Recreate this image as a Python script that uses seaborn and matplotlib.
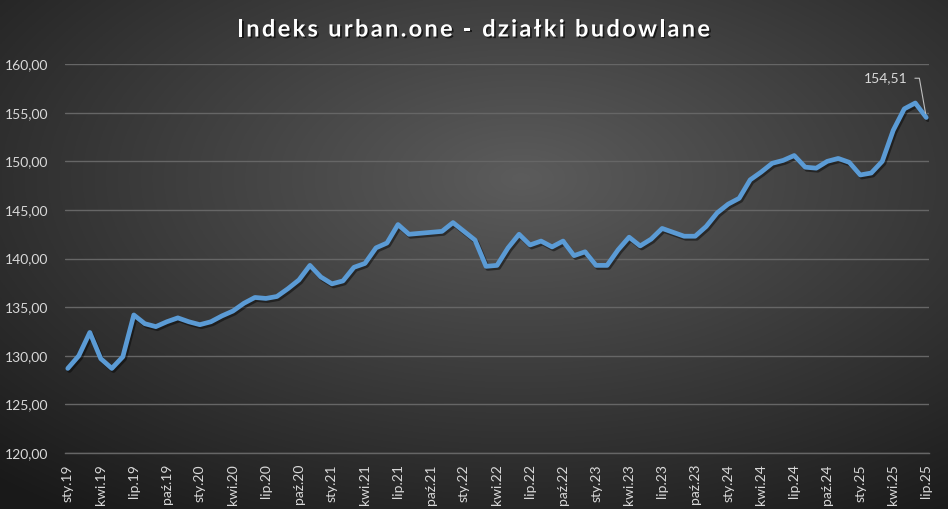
import numpy as np
import pandas as pd
import matplotlib
matplotlib.use('Agg')
import matplotlib.pyplot as plt
import matplotlib.patheffects as pe
import seaborn as sns

# Polish month abbreviations, monthly index values Jan 2019 - Jul 2025
month_names = ['sty', 'lut', 'mar', 'kwi', 'maj', 'cze', 'lip', 'sie', 'wrz', 'paź', 'lis', 'gru']
years = ['19', '20', '21', '22', '23', '24', '25']

index_values = [
    128.7, 130.0, 132.4, 129.7, 128.7, 129.9, 134.2, 133.3, 133.0, 133.5, 133.9, 133.5,
    133.2, 133.5, 134.1, 134.6, 135.4, 136.0, 135.9, 136.1, 136.9, 137.8, 139.3, 138.1,
    137.4, 137.7, 139.1, 139.5, 141.1, 141.6, 143.5, 142.5, 142.6, 142.7, 142.8, 143.7,
    142.8, 141.9, 139.2, 139.3, 141.1, 142.5, 141.4, 141.8, 141.2, 141.8, 140.3, 140.7,
    139.3, 139.3, 140.9, 142.2, 141.3, 142.0, 143.1, 142.7, 142.3, 142.3, 143.3, 144.7,
    145.6, 146.2, 148.1, 148.9, 149.8, 150.1, 150.6, 149.4, 149.3, 150.0, 150.3, 149.9,
    148.6, 148.8, 150.0, 153.2, 155.4, 156.0, 154.51,
]

y_ticks = [120, 125, 130, 135, 140, 145, 150, 155, 160]
last_label = '154,51'
title = 'Indeks urban.one - działki budowlane'

month_labels = [f'{m}.{y}' for y in years for m in month_names][:len(index_values)]
df = pd.DataFrame({'idx': range(len(index_values)), 'month': month_labels, 'value': index_values})

sns.set_theme(style='dark')
plt.rcParams['font.family'] = ['Lato', 'DejaVu Sans']

fig = plt.figure(figsize=(9.48, 5.09), dpi=100)

# radial gradient background
bg = fig.add_axes([0, 0, 1, 1], zorder=-1)
yy, xx = np.mgrid[0:1:300j, 0:1:560j]
dist = np.sqrt(((xx - 0.55) / 0.75) ** 2 + ((yy - 0.35) / 0.75) ** 2)
shade = np.clip(0.36 - 0.24 * dist, 0.1, 0.36)
bg.imshow(np.dstack([shade] * 3), aspect='auto', extent=[0, 1, 0, 1], origin='upper')
bg.axis('off')

ax = fig.add_axes([0.0686, 0.110, 0.9114, 0.764])
ax.set_facecolor('none')

sns.lineplot(data=df, x='idx', y='value', ax=ax, color='#5b9bd5', linewidth=3.4,
             solid_capstyle='round', solid_joinstyle='round',
             path_effects=[pe.SimpleLineShadow(offset=(1.2, -1.5), shadow_color='black', alpha=0.45),
                           pe.Normal()])

ax.set_xlim(-0.25, len(index_values) - 1 + 0.25)
ax.set_ylim(y_ticks[0], y_ticks[-1])
ax.set_yticks(y_ticks)
ax.set_yticklabels([f'{v:.2f}'.replace('.', ',') for v in y_ticks], color='#d9d9d9', fontsize=10)
tick_pos = list(range(0, len(index_values), 3))
ax.set_xticks(tick_pos)
ax.set_xticklabels([month_labels[i] for i in tick_pos], rotation=90, color='#d9d9d9', fontsize=10)
ax.set_xlabel('')
ax.set_ylabel('')

ax.grid(axis='y', color='#666666', linewidth=1.0)
ax.grid(axis='x', visible=False)
for side in ['top', 'right', 'left']:
    ax.spines[side].set_visible(False)
ax.spines['bottom'].set_color('#666666')
ax.spines['bottom'].set_linewidth(1.0)
ax.tick_params(axis='x', length=4, color='#666666', pad=4)
ax.tick_params(axis='y', length=0, pad=12)

# last value label with leader line
last_x = len(index_values) - 1
ax.annotate(last_label, xy=(last_x, index_values[-1]), xytext=(last_x - 3.7, 158.55),
            color='#d9d9d9', fontsize=10, ha='center', va='center',
            arrowprops=dict(arrowstyle='-', color='#bfbfbf', linewidth=0.8,
                            connectionstyle='angle,angleA=0,angleB=100,rad=0',
                            shrinkA=3, shrinkB=3))

# title with letter spacing (drawn char by char)
renderer = fig.canvas.get_renderer()
title_kw = dict(color='white', fontsize=17, fontweight='bold', va='center', ha='left',
                path_effects=[pe.withSimplePatchShadow(offset=(1.2, -1.2),
                                                       shadow_rgbFace='black', alpha=0.6)])


def text_width(s):
    t = fig.text(0, 0, s.replace(' ', '\u00a0'), **title_kw)
    w = t.get_window_extent(renderer).width
    t.remove()
    return w


target_w = 473.0
natural_w = text_width(title)
spacing = (target_w - natural_w) / (len(title) - 1)
x0 = 473.5 - target_w / 2
for i, ch in enumerate(title):
    if ch == ' ':
        continue
    x = x0 + (text_width(title[:i]) if i else 0) + i * spacing
    fig.text(x / 948, 0.943, ch, **title_kw)

fig.savefig('out.png', dpi=100)
